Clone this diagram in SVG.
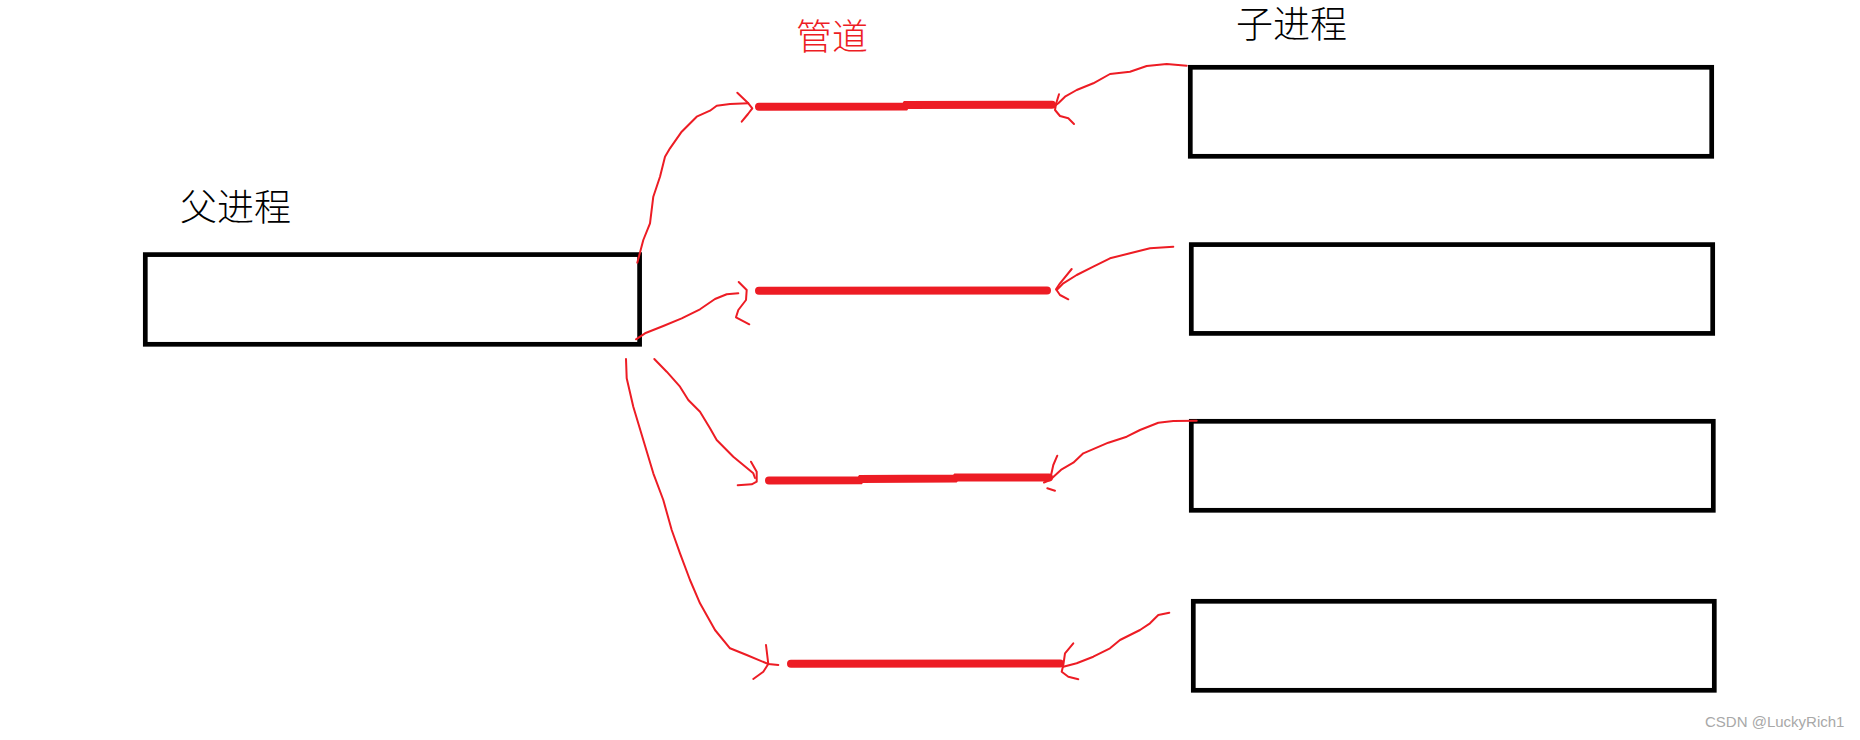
<svg xmlns="http://www.w3.org/2000/svg" width="1860" height="740" viewBox="0 0 1860 740">
  <style>
    .box { fill: #ffffff; stroke: #000000; stroke-width: 4.7; }
    .pipe { fill: none; stroke: #ED1C24; stroke-width: 8; stroke-linecap: round; }
    .ink { fill: none; stroke: #ED1C24; stroke-width: 2; stroke-linejoin: round; stroke-linecap: round; }
    .lbl { font-family: "Liberation Serif", "Noto Sans CJK SC", serif; font-size: 37px; font-weight: 300; fill: #000000; }
    .red { fill: #ED1C24; font-size: 36px; }
    .wm { font-family: "Liberation Sans", "DejaVu Sans", sans-serif; font-size: 15px; fill: #a8a8a8; }
  </style>
  <rect width="1860" height="740" fill="#ffffff"/>

  <g id="parent-process">
    <rect class="box" x="145.3" y="254.6" width="494.3" height="89.7"/>
    <text class="lbl" x="180" y="221">父进程</text>
  </g>

  <g id="child-label">
    <text class="lbl" x="1236" y="38">子进程</text>
  </g>
  <g id="child-1"><rect class="box" x="1190.3" y="67.3" width="521.4" height="89"/></g>
  <g id="child-2"><rect class="box" x="1191.3" y="244.6" width="521.4" height="88.8"/></g>
  <g id="child-3"><rect class="box" x="1191.3" y="421.3" width="522" height="89"/></g>
  <g id="child-4"><rect class="box" x="1193.3" y="601.3" width="521" height="89"/></g>

  <g id="pipe-label">
    <text class="lbl red" x="796" y="50">管道</text>
  </g>
  <g id="pipe-1"><polyline class="pipe" points="759,106.8 905,106.5 906,105 1052,104.8"/></g>
  <g id="pipe-2"><line class="pipe" x1="759" y1="290.8" x2="1047" y2="290.5"/></g>
  <g id="pipe-3"><polyline class="pipe" points="769,480.5 860,480.2 861,479 955,478.6 956,477.6 1049,477.4"/></g>
  <g id="pipe-4"><line class="pipe" x1="791" y1="663.7" x2="1060" y2="663.5"/></g>

  <g id="connectors">
    <!-- parent to pipe 1 -->
    <polyline class="ink" points="637.3,262.7 643.3,240 650,223.3 653.3,196.7 660,176.7 665,156.7 670,148.3 681.7,131.7 696.7,116.7 710,110.7 716.7,105.7 730,104 748.3,103.3"/>
    <polyline class="ink" points="737.3,92.7 748.3,103.3 752.3,108.3 748,114 741.7,121.7"/>
    <!-- parent to pipe 2 -->
    <polyline class="ink" points="636,339.3 645,333.3 663.3,326 681.7,318.3 700,309.3 715,299 726.7,294.3 738.3,293.3"/>
    <polyline class="ink" points="738.7,282 746.7,290 746,300 738.3,310 736,317.3 749.3,324.3"/>
    <!-- parent to pipe 3 -->
    <polyline class="ink" points="654.3,359 666.7,371.7 680,386.7 688.3,400 700,411.7 710,428.3 716.7,440 733.3,456.7 743.3,465 753.3,473.3 755,478"/>
    <polyline class="ink" points="751,461.7 756.7,471.7 756.7,481.7 751.7,484.3 737.7,485.3"/>
    <!-- parent to pipe 4 -->
    <polyline class="ink" points="626,359 626.7,378.3 633.3,406.7 643.3,440 653.3,473.3 663.3,500 671.7,530 680,553.3 690,580 700,603.3 715,630 730,648.3 746.7,655 768.3,664"/>
    <polyline class="ink" points="766,645 768.3,664 778.3,665"/>
    <polyline class="ink" points="768.3,664 763.3,671.7 753.3,679"/>
    <!-- child 1 to pipe 1 -->
    <polyline class="ink" points="1186.7,65.7 1166.7,64 1146.7,66 1130,71.7 1110,74 1093.3,83.3 1076.7,90 1065,96.7 1058.3,103.3 1056,105"/>
    <polyline class="ink" points="1059,94.3 1056,104 1055,110 1060,116 1068.3,118.3 1074,124"/>
    <!-- child 2 to pipe 2 -->
    <polyline class="ink" points="1173.3,246.7 1150,248.3 1130,253.3 1110,258.3 1093.3,266.7 1076.7,275 1063.3,283.3 1056.7,290"/>
    <polyline class="ink" points="1071.7,269 1060,283.3 1056,289.3 1060,295 1068.3,299.3"/>
    <!-- child 3 to pipe 3 -->
    <polyline class="ink" points="1196.7,420.7 1173.3,421 1158.3,422.7 1140,430 1126.7,436.7 1108.3,442.7 1083.3,453.3 1073.3,462.7 1061.7,469.3 1050,480"/>
    <polyline class="ink" points="1057.3,455.7 1053.3,465 1050,480 1044,482.5"/>
    <polyline class="ink" points="1047.3,488.3 1055,490.7"/>
    <!-- child 4 to pipe 4 -->
    <polyline class="ink" points="1169.3,612.7 1158.3,615 1150,623.3 1140,630 1120,640 1110,648.3 1093.3,656.7 1076.7,663.3 1063.3,666.7"/>
    <polyline class="ink" points="1073.3,643.3 1065,653.3 1063.3,665 1061.7,671.7 1068.3,676.7 1078.3,679.3"/>
  </g>

  <text class="wm" x="1705" y="727">CSDN @LuckyRich1</text>
</svg>
